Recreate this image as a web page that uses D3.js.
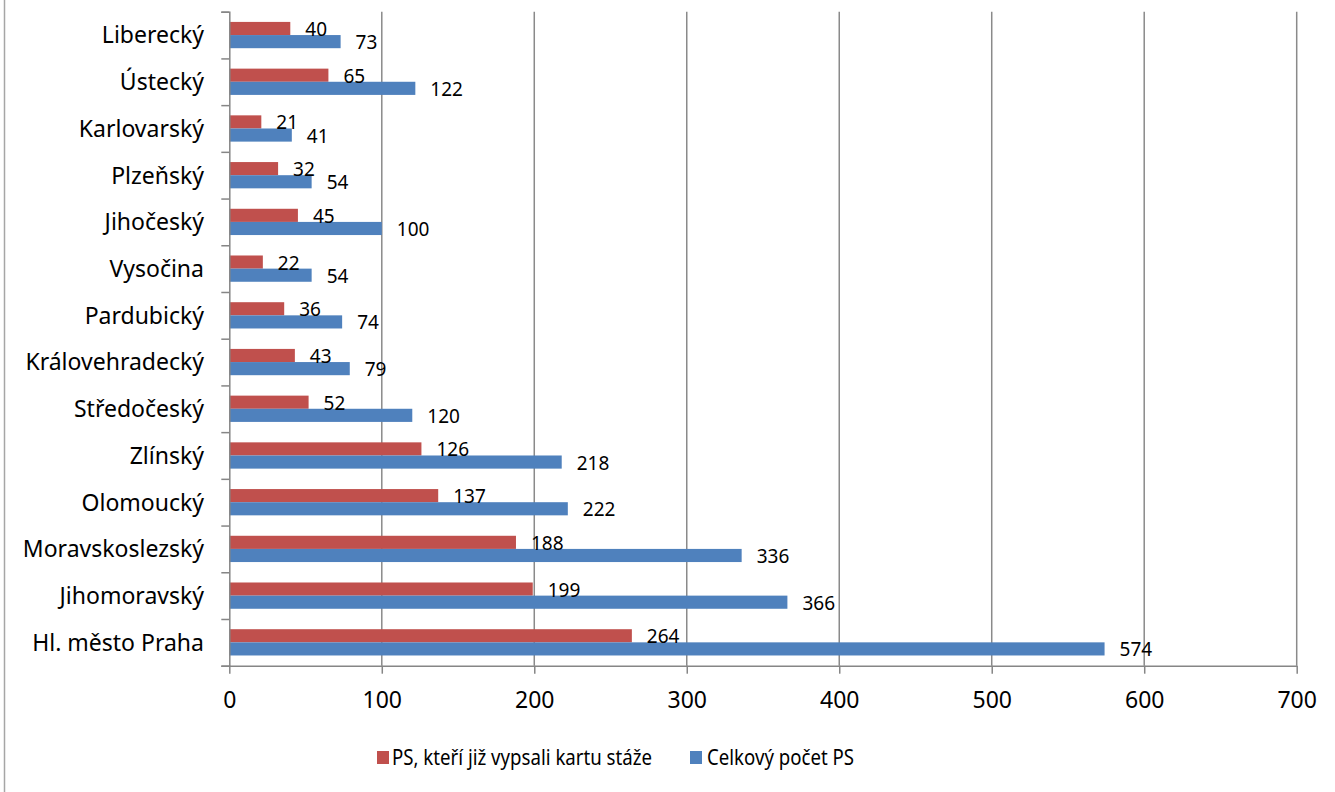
<!DOCTYPE html>
<html><head><meta charset="utf-8">
<script src="https://cdn.jsdelivr.net/npm/d3@7"></script>
<style>body{margin:0;background:#fff}svg{display:block}text{font-family:"Noto Sans",sans-serif;fill:#000}</style>
</head><body><svg id="c" width="1335" height="792"></svg>
<script>
const categories = ["Liberecký","Ústecký","Karlovarský","Plzeňský","Jihočeský","Vysočina","Pardubický","Královehradecký","Středočeský","Zlínský","Olomoucký","Moravskoslezský","Jihomoravský","Hl. město Praha"];
const seriesNames = ["PS, kteří již vypsali kartu stáže","Celkový počet PS"];
const vypsali = [40,65,21,32,45,22,36,43,52,126,137,188,199,264];
const celkem = [73,122,41,54,100,54,74,79,120,218,222,336,366,574];
const xTicks = [0,100,200,300,400,500,600,700];
const colors = ["#C0504D","#4F81BD"];

const svg = d3.select("#c");
const L = 229.3, R = 1296.7, T = 11.7, B = 665.7;
const x = d3.scaleLinear().domain([0,700]).range([L,R]);
const y = d3.scaleBand().domain(categories).range([T,B]).paddingInner(0.4375).paddingOuter(0.21875);
const sub = d3.scaleBand().domain([0,1]).range([0,y.bandwidth()]);
const yc = c => T + (categories.indexOf(c)+0.5)*(B-T)/categories.length;

// outer border line at left
svg.append("line").attr("x1",4.5).attr("x2",4.5).attr("y1",0).attr("y2",792).attr("stroke","#a6a6a6").attr("stroke-width",1.5);

// gridlines
svg.append("g").selectAll("line").data(xTicks.slice(1)).join("line")
  .attr("x1",d=>x(d)).attr("x2",d=>x(d)).attr("y1",T).attr("y2",B)
  .attr("stroke","#8a8a8a").attr("stroke-width",1.5);

// bars
const series = [vypsali, celkem];
series.forEach((vals,si)=>{
  svg.append("g").selectAll("rect").data(categories).join("rect")
    .attr("x",x(0)).attr("y",(c)=>y(c)+sub(si))
    .attr("width",(c,i)=>x(vals[i])-x(0)).attr("height",sub.bandwidth())
    .attr("fill",colors[si]);
});
series.forEach((vals,si)=>{
  svg.append("g").selectAll("text").data(categories).join("text")
    .attr("x",(c,i)=>x(vals[i])+15).attr("y",(c)=>y(c)+sub(si)+sub.bandwidth()/2+7.5)
    .attr("font-size",19).text((c,i)=>vals[i]);
});

// y axis
const yAxis = d3.axisLeft(d3.scaleLinear().domain([0,14]).range([T,B])).tickValues(d3.range(15)).tickSize(8).tickFormat("");
const gy = svg.append("g").attr("transform",`translate(${L},0)`).call(yAxis);
gy.selectAll("path,line").attr("stroke","#868686").attr("stroke-width",1.5);
svg.append("g").selectAll("text").data(categories).join("text")
  .attr("x",204).attr("y",c=>yc(c) + 8.3)
  .attr("text-anchor","end").attr("font-size",23).text(d=>d);

// x axis
const xAxis = d3.axisBottom(x).tickValues(xTicks).tickSize(8).tickSizeOuter(0).tickFormat(d3.format("d"));
const gx = svg.append("g").attr("transform",`translate(0,${B})`).call(xAxis);
gx.selectAll("path,line").attr("stroke","#868686").attr("stroke-width",1.5);
gx.selectAll("text").attr("font-size",23).attr("font-family","Noto Sans").attr("fill","#000").attr("dy",0).attr("y",42.6);

// legend
const lg = [{x:377,tx:392,w:260},{x:690,tx:707,w:147}];
lg.forEach((p,i)=>{
  svg.append("rect").attr("x",p.x).attr("y",751).attr("width",12).attr("height",13).attr("fill",colors[i]);
  svg.append("text").attr("x",p.tx).attr("y",765).attr("font-size",21)
    .attr("textLength",p.w).attr("lengthAdjust","spacingAndGlyphs").text(seriesNames[i]);
});
</script></body></html>
